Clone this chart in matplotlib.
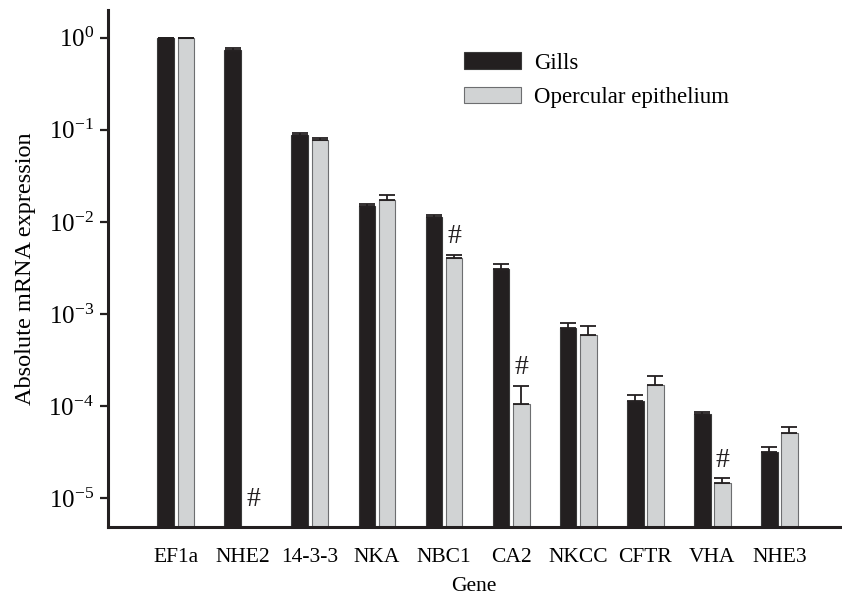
import numpy as np
import matplotlib
matplotlib.use("Agg")
import matplotlib.pyplot as plt

OUT = "out.png"

genes = ["EF1a", "NHE2", "14-3-3", "NKA", "NBC1", "CA2", "NKCC", "CFTR", "VHA", "NHE3"]
gills = [1.0, 0.74, 0.088, 0.0149, 0.0113, 0.0031, 7.1e-4, 1.13e-4, 8.3e-5, 3.2e-5]
gills_err = [0.0, 0.03, 0.005, 0.0008, 0.0005, 0.0004, 0.9e-4, 0.2e-4, 0.3e-5, 0.4e-5]
oper = [1.0, np.nan, 0.078, 0.0174, 0.0041, 1.05e-4, 5.9e-4, 1.7e-4, 1.45e-5, 5.1e-5]
oper_err = [0.0, np.nan, 0.004, 0.0024, 0.0003, 0.6e-4, 1.5e-4, 0.4e-4, 0.2e-5, 0.8e-5]
hash_genes = ["NHE2", "NBC1", "CA2", "VHA"]  # # = szignifikáns eltérés

BLACK = "#231f20"
GRAY = "#d1d3d4"

plt.rcParams["font.family"] = ["Liberation Serif", "DejaVu Serif"]
plt.rcParams["mathtext.fontset"] = "stix"

fig = plt.figure(figsize=(8.42, 5.95), dpi=100)
ax = fig.add_axes([0.128, 0.114, 0.870, 0.869])
ax.set_yscale("log")

x = np.arange(len(genes))
w = 0.25
off = 0.15
ylo, yhi = 10 ** -5.315, 10 ** 0.30

ax.bar(x - off, gills, w, color=BLACK, edgecolor="#3a3a3a", linewidth=0.8,
       label="Gills", zorder=2)
ax.bar(x + off, oper, w, color=GRAY, edgecolor="#6d6e70", linewidth=0.8,
       label="Opercular epithelium", zorder=2)

# csak felső hibasáv
g_err = np.array(gills_err)
o_err = np.array(oper_err)
ax.errorbar(x - off, gills, yerr=[np.zeros_like(g_err), g_err], fmt="none",
            ecolor=BLACK, elinewidth=1.3, capsize=6, capthick=1.3, zorder=3)
ax.errorbar(x + off, oper, yerr=[np.zeros_like(o_err), o_err], fmt="none",
            ecolor=BLACK, elinewidth=1.3, capsize=6, capthick=1.3, zorder=3)

for g in hash_genes:
    i = genes.index(g)
    if np.isnan(oper[i]):
        yb = ylo * 1.45
    else:
        yb = (oper[i] + oper_err[i]) * 1.15
    ax.text(i + off, yb, "#", ha="center", va="bottom", fontsize=20, color=BLACK)

ax.set_ylim(ylo, yhi)
ax.set_xlim(-1.015, 9.91)
ax.set_xticks(x)
ax.set_xticklabels(genes, fontsize=15.5)
ax.set_yticks([10.0 ** k for k in range(-5, 1)])
ax.yaxis.set_minor_locator(matplotlib.ticker.NullLocator())
ax.tick_params(axis="y", which="major", length=6, width=1.6, direction="out",
               labelsize=18, pad=4, color=BLACK)
ax.tick_params(axis="x", length=0, pad=15)

for s in ["top", "right"]:
    ax.spines[s].set_visible(False)
for s in ["left", "bottom"]:
    ax.spines[s].set_linewidth(2.2)
    ax.spines[s].set_color(BLACK)

ax.set_ylabel("Absolute mRNA expression", fontsize=17.5, labelpad=9)
ax.set_xlabel("Gene", fontsize=15.5, labelpad=7)

ax.legend(loc="upper left", bbox_to_anchor=(0.551, 0.912), bbox_transform=fig.transFigure,
          frameon=False, fontsize=16.5, handlelength=2.5, handleheight=0.72,
          labelspacing=0.58, handletextpad=0.55, borderpad=0, borderaxespad=0)

fig.savefig(OUT, dpi=100)
plt.close(fig)
print("[DONE]", OUT)
